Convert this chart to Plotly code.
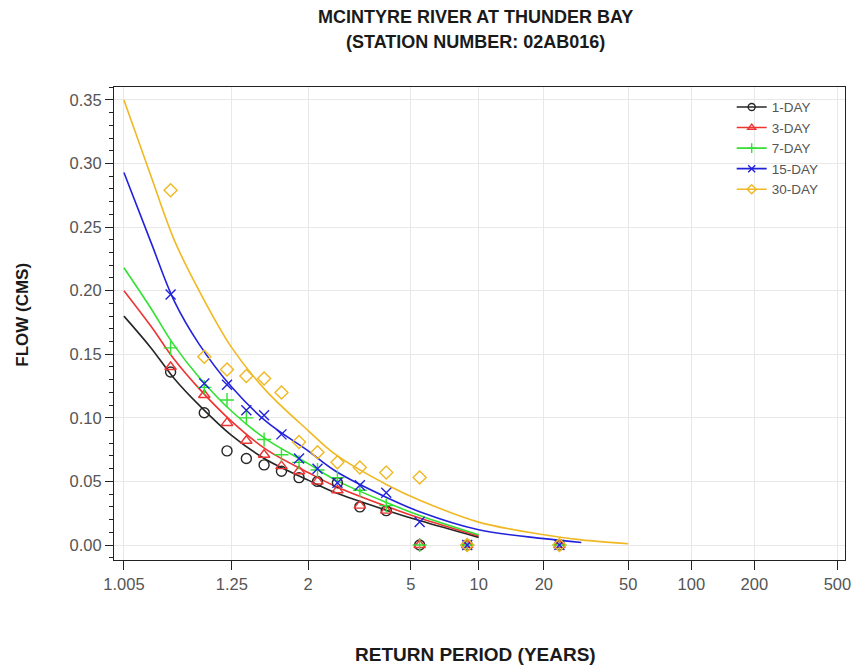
import math
import plotly.graph_objects as go

# Low-flow frequency analysis, McIntyre River at Thunder Bay (02AB016)
SERIES = ["1-DAY", "3-DAY", "7-DAY", "15-DAY", "30-DAY"]
COLORS = ["#262626", "#ee3333", "#33e033", "#2222dd", "#f0b822"]
SYMBOLS = ["circle-open", "triangle-up-open", "cross-thin-open", "x-thin-open", "diamond-open"]

# Observed annual minima at their plotting positions (return period, years)
OBS_T = [1.044, 1.127, 1.224, 1.340, 1.479, 1.651, 1.868, 2.152, 2.536,
         3.087, 3.944, 5.462, 8.875, 23.667]
OBS_1DAY = [0.136, 0.104, 0.074, 0.068, 0.063, 0.058, 0.053, 0.050, 0.049,
            0.030, 0.027, 0.0, 0.0, 0.0]
OBS_3DAY = [0.140, 0.118, 0.096, 0.082, 0.071, 0.062, 0.058, 0.050, 0.043,
            0.031, 0.027, 0.0, 0.0, 0.0]
OBS_7DAY = [0.155, 0.124, 0.114, 0.100, 0.083, 0.071, 0.065, 0.059, 0.053,
            0.043, 0.031, 0.0, 0.0, 0.0]
OBS_15DAY = [0.197, 0.127, 0.126, 0.106, 0.102, 0.087, 0.068, 0.060, 0.049,
             0.047, 0.041, 0.018, 0.0, 0.0]
OBS_30DAY = [0.279, 0.148, 0.138, 0.133, 0.131, 0.120, 0.081, 0.073, 0.065,
             0.061, 0.057, 0.053, 0.0, 0.0]

# Fitted frequency curves
FIT_T = [1.005, 1.02, 1.05, 1.11, 1.25, 1.5, 2, 2.5, 4, 5.5, 10, 20, 30, 50]
FIT_1DAY = [0.180, 0.155, 0.131, 0.110, 0.086, 0.067, 0.051, 0.041, 0.027,
            0.019, 0.006, None, None, None]
FIT_3DAY = [0.200, 0.172, 0.146, 0.123, 0.097, 0.075, 0.057, 0.046, 0.030,
            0.021, 0.007, None, None, None]
FIT_7DAY = [0.218, 0.186, 0.157, 0.132, 0.105, 0.083, 0.064, 0.051, 0.033,
            0.023, 0.008, None, None, None]
FIT_15DAY = [0.293, 0.238, 0.192, 0.158, 0.124, 0.097, 0.074, 0.058, 0.037,
             0.026, 0.012, 0.005, 0.002, None]
FIT_30DAY = [0.350, 0.290, 0.240, 0.200, 0.155, 0.121, 0.090, 0.071, 0.047,
             0.035, 0.018, 0.008, 0.004, 0.001]

X_TICKS = [1.005, 1.25, 2, 5, 10, 20, 50, 100, 200, 500]
X_TICK_TEXT = ["1.005", "1.25", "2", "5", "10", "20", "50", "100", "200", "500"]
Y_TICKS = [0.00, 0.05, 0.10, 0.15, 0.20, 0.25, 0.30, 0.35]


def gumbel(T):
    """Gumbel reduced variate for a return period T (probability paper)."""
    return -math.log(-math.log(1.0 - 1.0 / T))


obs = [OBS_1DAY, OBS_3DAY, OBS_7DAY, OBS_15DAY, OBS_30DAY]
fits = [FIT_1DAY, FIT_3DAY, FIT_7DAY, FIT_15DAY, FIT_30DAY]

fig = go.Figure()
ox = [gumbel(t) for t in OBS_T]
fx = [gumbel(t) for t in FIT_T]

for name, col, fv in zip(SERIES, COLORS, fits):
    fig.add_trace(go.Scatter(x=fx, y=fv, mode="lines",
                             line=dict(color=col, width=1.6, shape="spline", smoothing=1.0),
                             showlegend=False, hoverinfo="skip"))
for name, col, sym, ov in zip(SERIES, COLORS, SYMBOLS, obs):
    fig.add_trace(go.Scatter(x=ox, y=ov, mode="markers",
                             marker=dict(symbol=sym, size=10, color=col, line=dict(color=col, width=1.4)),
                             showlegend=False, name=name))
for name, col, sym in zip(SERIES, COLORS, SYMBOLS):
    fig.add_trace(go.Scatter(x=[None], y=[None], mode="lines+markers", name=name,
                             line=dict(color=col, width=1.6),
                             marker=dict(symbol=sym, size=7, color=col, line=dict(color=col, width=1.4))))

x_lo = gumbel(1.005) - 10 / 91.27
x_hi = x_lo + 737 / 91.27

TICK_FONT = dict(size=16.5, color="#555")

fig.update_layout(
    width=862, height=671,
    margin=dict(l=114, r=11, t=87, b=111),
    paper_bgcolor="white", plot_bgcolor="white",
    font=dict(family="Liberation Sans, Arial, sans-serif", size=14, color="#444"),
    showlegend=True,
    legend=dict(x=0.845, y=0.99, xanchor="left", yanchor="top", bgcolor="rgba(255,255,255,0)",
                font=dict(size=13.5, color="#555"), tracegroupgap=0, itemwidth=30),
    xaxis=dict(range=[x_lo, x_hi], tickmode="array", tickvals=[gumbel(t) for t in X_TICKS],
               ticktext=X_TICK_TEXT, ticks="outside", ticklen=9, tickcolor="#222",
               showline=True, linecolor="#222", linewidth=1.2, mirror=True,
               showgrid=True, gridcolor="#e8e8e8", gridwidth=1, zeroline=False,
               tickfont=TICK_FONT),
    yaxis=dict(range=[-0.0118, 0.3602], tickmode="array", tickvals=Y_TICKS,
               ticktext=[f"{v:.2f}" for v in Y_TICKS], ticks="outside", ticklen=8, tickcolor="#222",
               minor=dict(dtick=0.01, tick0=0, ticks="outside", ticklen=4, tickcolor="#222", showgrid=False),
               showline=True, linecolor="#222", linewidth=1.2, mirror=True,
               showgrid=True, gridcolor="#e8e8e8", gridwidth=1, zeroline=False,
               tickfont=TICK_FONT),
    annotations=[
        dict(text="<b>MCINTYRE RIVER AT THUNDER BAY</b>", x=0.494, y=1.148, xref="paper", yref="paper",
             showarrow=False, xanchor="center", yanchor="middle", font=dict(size=18, color="#1a1a1a")),
        dict(text="<b>(STATION NUMBER: 02AB016)</b>", x=0.494, y=1.095, xref="paper", yref="paper",
             showarrow=False, xanchor="center", yanchor="middle", font=dict(size=18, color="#1a1a1a")),
        dict(text="<b>RETURN PERIOD (YEARS)</b>", x=0.494, y=-0.2008, xref="paper", yref="paper",
             showarrow=False, xanchor="center", yanchor="middle", font=dict(size=19, color="#1a1a1a")),
        dict(text="<b>FLOW (CMS)</b>", x=-0.1248, y=0.518, xref="paper", yref="paper", textangle=-90,
             showarrow=False, xanchor="center", yanchor="middle", font=dict(size=17, color="#1a1a1a")),
    ],
)

fig.write_html("out.html")
